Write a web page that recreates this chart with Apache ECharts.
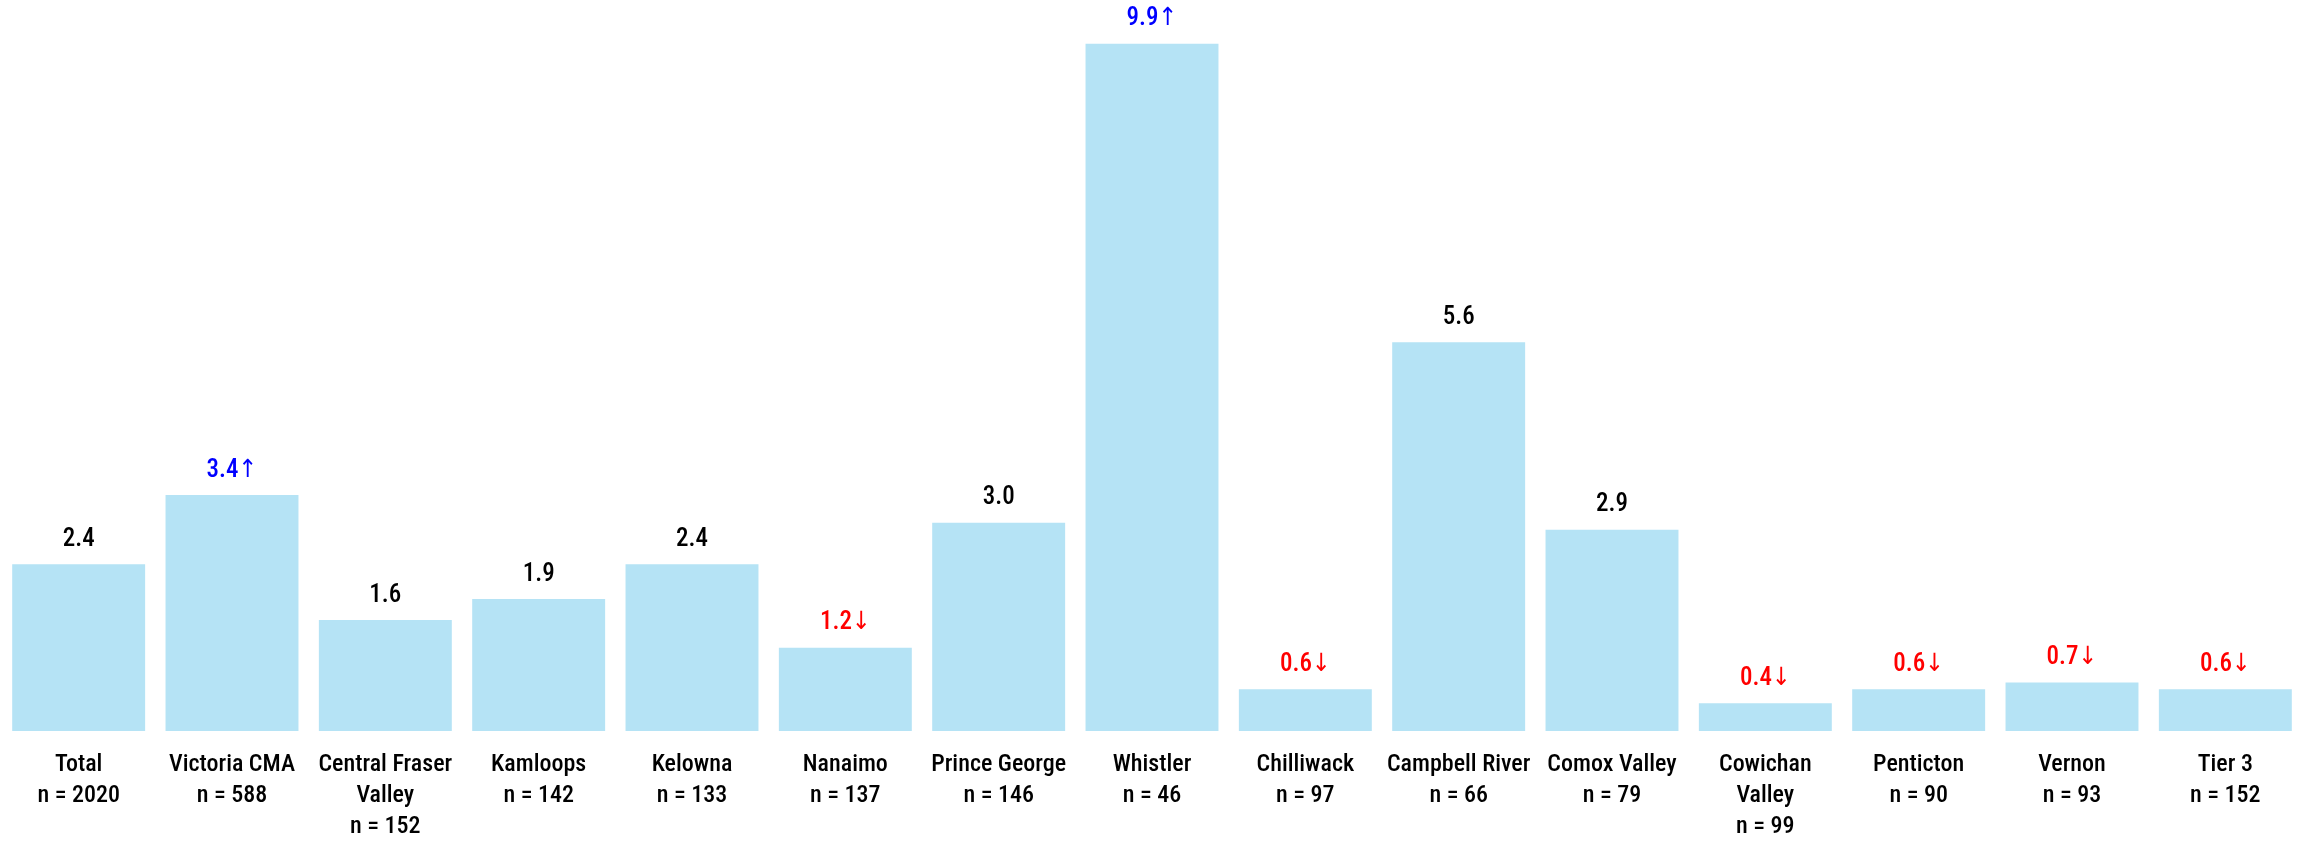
<!DOCTYPE html>
<html>
<head>
<meta charset="utf-8">
<script src="https://cdn.jsdelivr.net/npm/echarts@6/dist/echarts.min.js"></script>
<style>
html,body{margin:0;padding:0;background:#fff;}
#chart{width:2302px;height:842px;}
</style>
</head>
<body>
<div id="chart"></div>
<script>
const categories = ["Total", "Victoria CMA", "Central Fraser\nValley", "Kamloops", "Kelowna", "Nanaimo", "Prince George", "Whistler", "Chilliwack", "Campbell River", "Comox Valley", "Cowichan\nValley", "Penticton", "Vernon", "Tier 3"];
const sampleSizes = [2020, 588, 152, 142, 133, 137, 146, 46, 97, 66, 79, 99, 90, 93, 152];
const values = [2.4, 3.4, 1.6, 1.9, 2.4, 1.2, 3.0, 9.9, 0.6, 5.6, 2.9, 0.4, 0.6, 0.7, 0.6];
const significance = ["", "up", "", "", "", "down", "", "up", "down", "", "", "down", "down", "down", "down"];

const FONT = "'Roboto Condensed', 'Noto Sans Condensed', 'Open Sans Condensed', 'DejaVu Sans Condensed', Lato, sans-serif";
const sigColor = { up: "#0000ff", down: "#ff0000", "": "#000000" };
const sigArrow = { up: "\u2191", down: "\u2193", "": "" };

const axisLabels = categories.map((c, i) => c + "\nn = " + sampleSizes[i]);
const seriesData = values.map((v, i) => ({
  value: v,
  label: {
    color: sigColor[significance[i]],
    formatter: v.toFixed(1) + sigArrow[significance[i]]
  }
}));

const chart = echarts.init(document.getElementById("chart"));
chart.setOption({
  animation: false,
  grid: { left: 2, right: 0, top: 2, bottom: 105, containLabel: false },
  xAxis: {
    type: "category",
    data: axisLabels,
    axisLine: { show: false },
    axisTick: { show: false },
    axisLabel: {
      interval: 0,
      margin: 18,
      fontFamily: FONT,
      fontWeight: 500,
      fontSize: 24,
      lineHeight: 31,
      color: "#000"
    }
  },
  yAxis: {
    type: "value",
    min: 0,
    max: 10.5,
    show: false,
    splitLine: { show: false }
  },
  series: [{
    type: "bar",
    data: seriesData,
    barCategoryGap: "13.3%",
    itemStyle: { color: "#b5e3f5" },
    label: {
      show: true,
      position: "top",
      distance: 12,
      fontFamily: FONT,
      fontWeight: 500,
      fontSize: 25
    }
  }]
});
</script>
</body>
</html>
